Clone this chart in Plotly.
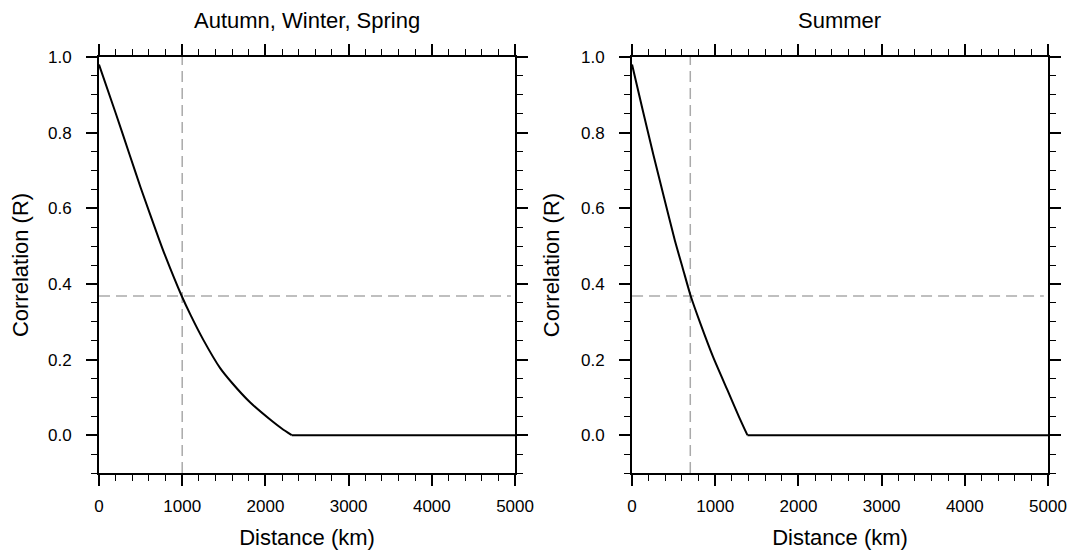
import plotly.graph_objects as go

# Data
dist_aws = [0, 200, 369, 500, 725, 793, 994, 1100, 1254, 1454, 1600, 1815, 2075, 2200, 2316, 5000]
corr_aws = [0.98, 0.852, 0.741, 0.655, 0.516, 0.476, 0.368, 0.318, 0.252, 0.178, 0.138, 0.087, 0.038, 0.017, 0.0, 0.0]

dist_sum = [0, 130, 257, 385, 513, 610, 705, 822, 974, 1147, 1287, 1387, 5000]
corr_sum = [0.98, 0.858, 0.741, 0.628, 0.516, 0.441, 0.368, 0.295, 0.207, 0.119, 0.048, 0.0, 0.0]

efold = 0.368          # 1/e reference correlation
len_aws = 1000         # e-folding distance, km
len_sum = 700
titles = ["Autumn, Winter, Spring", "Summer"]

FONT = "Liberation Sans, Arial, sans-serif"
DASH = dict(color="#aaaaaa", width=1.5, dash="11px,6px")

fig = go.Figure()
panels = [(dist_aws, corr_aws, len_aws, "x", "y"), (dist_sum, corr_sum, len_sum, "x2", "y2")]
for d, c, L, xa, ya in panels:
    fig.add_trace(go.Scatter(x=[0, 4950], y=[efold, efold], mode="lines", line=DASH,
                             xaxis=xa, yaxis=ya, showlegend=False, hoverinfo="skip"))
    fig.add_trace(go.Scatter(x=[L, L], y=[-0.1, 1.0], mode="lines", line=DASH,
                             xaxis=xa, yaxis=ya, showlegend=False, hoverinfo="skip"))
    # decaying part (smoothed) and flat zero tail (straight)
    fig.add_trace(go.Scatter(x=d[:-1], y=c[:-1], mode="lines",
                             line=dict(color="black", width=2, shape="spline", smoothing=0.6),
                             xaxis=xa, yaxis=ya, showlegend=False))
    fig.add_trace(go.Scatter(x=d[-2:], y=c[-2:], mode="lines",
                             line=dict(color="black", width=2),
                             xaxis=xa, yaxis=ya, showlegend=False))

xcommon = dict(range=[0, 5000], tick0=0, dtick=1000, ticks="outside", ticklen=11, tickwidth=2,
               tickcolor="black", showline=True, linewidth=2, linecolor="black", mirror="ticks",
               showgrid=False, zeroline=False, automargin=False, ticklabelstandoff=6,
               minor=dict(ticks="outside", ticklen=6, tickwidth=1.2, tickcolor="black", dtick=200, showgrid=False),
               tickfont=dict(size=17, color="black", family=FONT),
               title=dict(text="Distance (km)", font=dict(size=22, color="black", family=FONT), standoff=14))
ycommon = dict(range=[-0.1, 1.0], tick0=0, dtick=0.2, tickformat=".1f", ticks="outside", ticklen=11,
               tickwidth=2, tickcolor="black", showline=True, linewidth=2, linecolor="black",
               mirror="ticks", showgrid=False, zeroline=False, automargin=False, ticklabelstandoff=11,
               minor=dict(ticks="outside", ticklen=6, tickwidth=1.2, tickcolor="black", dtick=0.05, showgrid=False),
               tickfont=dict(size=17, color="black", family=FONT),
               title=dict(text="Correlation (R)", font=dict(size=22, color="black", family=FONT), standoff=15))

# page body has an 8px default margin, so the figure is sized/offset to compensate
fig.update_layout(
    width=1070, height=546,
    margin=dict(l=91, r=30, t=49, b=81),
    paper_bgcolor="white", plot_bgcolor="white",
    xaxis=dict(domain=[0, 0.4384], anchor="y", **xcommon),
    yaxis=dict(domain=[0, 1], anchor="x", **ycommon),
    xaxis2=dict(domain=[0.5617, 1], anchor="y2", **xcommon),
    yaxis2=dict(domain=[0, 1], anchor="x2", **ycommon),
    annotations=[
        dict(text=titles[0], x=0.2192, y=1, xref="paper", yref="paper", xanchor="center", yanchor="bottom",
             yshift=22, showarrow=False, font=dict(size=22, color="black", family=FONT)),
        dict(text=titles[1], x=0.7808, y=1, xref="paper", yref="paper", xanchor="center", yanchor="bottom",
             yshift=22, showarrow=False, font=dict(size=22, color="black", family=FONT)),
    ],
)

fig.write_html("out.html")
